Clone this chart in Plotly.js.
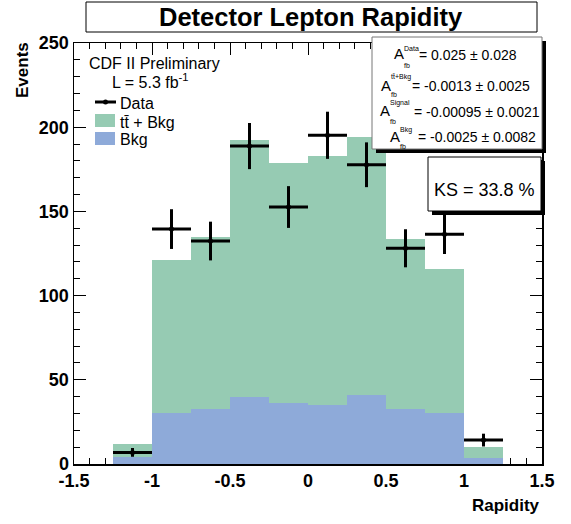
<!DOCTYPE html>
<html><head><meta charset="utf-8">
<script src="https://cdn.plot.ly/plotly-3.0.1.min.js"></script>
<style>html,body{margin:0;padding:0;background:#fff}</style>
</head><body>
<div id="chart" style="width:571px;height:524px"></div>
<script>
// ---- data ----
const binCenters = [-1.125, -0.875, -0.625, -0.375, -0.125, 0.125, 0.375, 0.625, 0.875, 1.125];
const ttbarPlusBkg = [11.8, 121, 135, 192.4, 178.6, 183, 194.4, 133.8, 115.8, 10.3];
const bkgOnly = [4.3, 30.3, 32.7, 39.8, 36.2, 35.2, 41.2, 32.7, 30.1, 3.8];
const dataValues = [6.9, 139.5, 132.4, 188.8, 152.6, 195.2, 177.7, 128.1, 136.4, 14.2];
const dataErrors = [2.6, 11.8, 11.5, 13.7, 12.4, 14.0, 13.3, 11.3, 11.7, 3.8];
const xTickVals = [-1.5, -1, -0.5, 0, 0.5, 1, 1.5];
const xTickText = ['-1.5', '-1', '-0.5', '0', '0.5', '1', '1.5'];
const yTickVals = [0, 50, 100, 150, 200, 250];
const yTickText = ['0', '50', '100', '150', '200', '250'];
const afbLabels = ['Data', 'tt\u0304+Bkg', 'Signal', 'Bkg'];
const afbValues = ['= 0.025 \u00b1 0.028', '= -0.0013 \u00b1 0.0025', '= -0.00095 \u00b1 0.0021', '= -0.0025 \u00b1 0.0082'];

// ---- layout helpers (pixel -> paper) ----
const L = 74, R = 542, T = 43, B = 464;
const X = px => (px - L) / (R - L);
const Y = py => (B - py) / (B - T);
const FONT = 'Liberation Sans, Arial, Helvetica, sans-serif';
const GREEN = '#96cbb3', BLUE = '#8eaad9';
const bold = s => '<b>' + s + '</b>';

const traces = [
  {type: 'bar', x: binCenters, y: ttbarPlusBkg, width: 0.25,
   marker: {color: GREEN, line: {width: 0}}, hoverinfo: 'none', showlegend: false},
  {type: 'bar', x: binCenters, y: bkgOnly, width: 0.25,
   marker: {color: BLUE, line: {width: 0}}, hoverinfo: 'none', showlegend: false},
  {type: 'scatter', mode: 'markers', x: binCenters, y: dataValues,
   marker: {color: '#000', size: 5},
   error_y: {type: 'data', array: dataErrors, visible: true, color: '#000', thickness: 3, width: 0},
   error_x: {type: 'constant', value: 0.125, visible: true, color: '#000', thickness: 3, width: 0},
   hoverinfo: 'none', showlegend: false}
];

const shapes = [];
const annotations = [];
function box(x0, y0, x1, y1, border, shadow) {
  if (shadow) shapes.push({type: 'rect', xref: 'paper', yref: 'paper',
    x0: X(x0 + 4), x1: X(x1 + 4), y0: Y(y0 + 4), y1: Y(y1 + 4),
    fillcolor: '#000', line: {width: 0}, layer: 'above'});
  shapes.push({type: 'rect', xref: 'paper', yref: 'paper',
    x0: X(x0), x1: X(x1), y0: Y(y0), y1: Y(y1),
    fillcolor: '#fff', line: {color: border, width: 1}, layer: 'above'});
}
function txt(text, px, py, size, opts) {
  annotations.push(Object.assign({xref: 'paper', yref: 'paper', x: X(px), y: Y(py),
    text: text, showarrow: false, xanchor: 'left', yanchor: 'middle', borderpad: 0,
    font: {family: FONT, size: size, color: '#000'}}, opts || {}));
}

// title box
box(86, 2, 537, 32, '#000', false);
txt(bold('Detector Lepton Rapidity'), 311, 17, 25.5, {xanchor: 'center'});

// axis titles
txt(bold('Events'), 22, 70, 17, {xanchor: 'center', textangle: -90});
txt(bold('Rapidity'), 541, 506, 17, {xanchor: 'right'});

// legend text
txt('CDF II Preliminary', 88, 63, 16);
txt('L = 5.3 fb<sup>-1</sup>', 111, 81, 16);
shapes.push({type: 'line', xref: 'paper', yref: 'paper', x0: X(95), x1: X(116), y0: Y(102), y1: Y(102), line: {color: '#000', width: 3}});
shapes.push({type: 'circle', xref: 'paper', yref: 'paper', x0: X(103), x1: X(108), y0: Y(99.5), y1: Y(104.5), fillcolor: '#000', line: {width: 0}});
txt('Data', 119, 103, 16);
shapes.push({type: 'rect', xref: 'paper', yref: 'paper', x0: X(95), x1: X(115), y0: Y(114), y1: Y(127), fillcolor: GREEN, line: {width: 0}});
txt('tt\u0304 + Bkg', 119, 123, 16);
shapes.push({type: 'rect', xref: 'paper', yref: 'paper', x0: X(95), x1: X(115), y0: Y(132), y1: Y(145), fillcolor: BLUE, line: {width: 0}});
txt('Bkg', 119, 139, 16);

// A_fb stat box
box(372, 37, 542, 149, '#777', true);
const rowA = [{a: 393, ay: 54, sy: 48, by: 66, v: 418}, {a: 380, ay: 85, sy: 77, by: 95, v: 411},
              {a: 379, ay: 111, sy: 103, by: 122, v: 413}, {a: 389, ay: 136, sy: 130, by: 146, v: 417}];
rowA.forEach((r, i) => {
  txt('A', r.a, r.ay, 15);
  txt(afbLabels[i], r.a + 10, r.sy, 7);
  txt('fb', r.a + 10, r.by, 7);
  txt(afbValues[i], r.v, r.ay + 1, 14);
});

// KS box
box(428, 157, 541, 211, '#000', true);
txt('KS = 33.8 %', 484.5, 190, 18, {xanchor: 'center'});

const layout = {
  width: 571, height: 524,
  margin: {l: L, r: 571 - R, t: T, b: 524 - B, pad: 0},
  paper_bgcolor: '#fff', plot_bgcolor: '#fff',
  barmode: 'overlay', bargap: 0,
  showlegend: false,
  font: {family: FONT, color: '#000'},
  xaxis: {range: [-1.5, 1.5], tickmode: 'array', tickvals: xTickVals, ticktext: xTickText.map(bold),
    ticks: 'inside', ticklen: 12, tickwidth: 1, tickcolor: '#000',
    minor: {ticks: 'inside', ticklen: 6, dtick: 0.1, tick0: 0, tickcolor: '#000', showgrid: false},
    showline: true, linecolor: '#000', linewidth: 1.5, mirror: 'ticks',
    showgrid: false, zeroline: false, layer: 'below traces',
    tickfont: {family: FONT, size: 18, color: '#000'}},
  yaxis: {range: [0, 250], tickmode: 'array', tickvals: yTickVals, ticktext: yTickText.map(bold),
    ticks: 'inside', ticklen: 12, tickwidth: 1, tickcolor: '#000',
    minor: {ticks: 'inside', ticklen: 6, dtick: 10, tick0: 0, tickcolor: '#000', showgrid: false},
    showline: true, linecolor: '#000', linewidth: 1.5, mirror: 'ticks',
    showgrid: false, zeroline: false, layer: 'below traces',
    tickfont: {family: FONT, size: 18, color: '#000'}},
  shapes: shapes,
  annotations: annotations
};

Plotly.newPlot('chart', traces, layout, {displayModeBar: false, staticPlot: true});
</script>
</body></html>
